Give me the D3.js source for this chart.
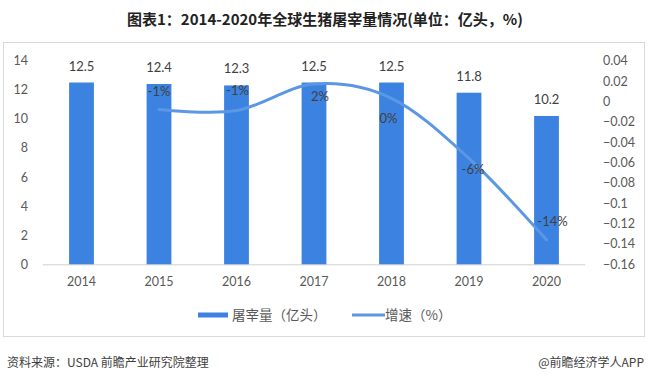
<!DOCTYPE html>
<html>
<head>
<meta charset="utf-8">
<script src="https://cdn.jsdelivr.net/npm/d3@7/dist/d3.min.js"></script>
<style>
  html, body { margin: 0; padding: 0; background: #fff; }
  svg { display: block; }
</style>
</head>
<body>
<svg id="chart" width="650" height="380"></svg>
<script>
// ---- data ----
const years = ["2014", "2015", "2016", "2017", "2018", "2019", "2020"];
const slaughter = [12.5, 12.4, 12.3, 12.5, 12.5, 11.8, 10.2];
const growthYears = ["2015", "2016", "2017", "2018", "2019", "2020"];
const growth = [-0.008, -0.009, 0.017, 0.003, -0.056, -0.136];
const leftTicks = [0, 2, 4, 6, 8, 10, 12, 14];
const rightTicks = [0.04, 0.02, 0, -0.02, -0.04, -0.06, -0.08, -0.1, -0.12, -0.14, -0.16];
const title = "图表1：2014-2020年全球生猪屠宰量情况(单位：亿头，%)";
const legendLabels = ["屠宰量（亿头）", "增速（%）"];
const sourceText = "资料来源：USDA 前瞻产业研究院整理";
const brandText = "@前瞻经济学人APP";

// ---- styles ----
const barColor = "#3c82e0";
const lineColor = "#5b97e4";
const textColor = "#595959";
const latin = "Lato, 'Open Sans', sans-serif";
const cjk = "'Noto Sans CJK SC', sans-serif";

const svg = d3.select("#chart");

// frame
svg.append("rect").attr("x", 3.5).attr("y", 42.5).attr("width", 641).attr("height", 294)
  .attr("fill", "#fff").attr("stroke", "#d9d9d9").attr("stroke-width", 1);

// title
svg.append("text").attr("x", 325).attr("y", 25).attr("text-anchor", "middle")
  .attr("font-family", cjk).attr("font-weight", "bold").attr("font-size", 15)
  .attr("fill", "#222").text(title);

// scales
const x = d3.scaleBand().domain(years).range([42.75, 585.25]).paddingInner(0.68).paddingOuter(0.34);
const yL = d3.scaleLinear().domain([0, 14]).range([264.3, 60.7]);
const yR = d3.scaleLinear().domain([-0.16, 0.04]).range([264.3, 60.7]);
const cx = d => x(d) + x.bandwidth() / 2;

// left axis
const axL = svg.append("g").attr("transform", "translate(34,0)")
  .call(d3.axisLeft(yL).tickValues(leftTicks).tickSize(0).tickPadding(6));
axL.select(".domain").remove();
axL.selectAll("text").attr("font-family", latin).attr("font-size", 12.5).attr("fill", textColor);

// right axis
const axR = svg.append("g").attr("transform", "translate(597,0)")
  .call(d3.axisRight(yR).tickValues(rightTicks).tickSize(0).tickPadding(6)
    .tickFormat(d => d3.format("")(+d.toFixed(2))));
axR.select(".domain").remove();
axR.selectAll("text").attr("font-family", latin).attr("font-size", 12.5).attr("fill", textColor);

// bottom axis
const axB = svg.append("g").attr("transform", "translate(0,264.3)")
  .call(d3.axisBottom(x).tickSize(0).tickPadding(13));
axB.select(".domain").attr("stroke", "#d0d0d0").attr("d", "M42.75,0.5H585.25");
axB.selectAll("text").attr("font-family", latin).attr("font-size", 12.5).attr("fill", textColor);

// bars
svg.append("g").selectAll("rect").data(slaughter).join("rect")
  .attr("x", (d, i) => x(years[i]))
  .attr("y", d => yL(d))
  .attr("width", x.bandwidth())
  .attr("height", d => yL(0) - yL(d))
  .attr("fill", barColor);

// bar labels
svg.append("g").selectAll("text").data(slaughter).join("text")
  .attr("x", (d, i) => cx(years[i]))
  .attr("y", d => yL(d) - 12)
  .attr("text-anchor", "middle")
  .attr("font-family", latin).attr("font-size", 13).attr("fill", "#404040")
  .text(d => d.toFixed(1));

// growth line
const line = d3.line()
  .x((d, i) => cx(growthYears[i]))
  .y(d => yR(d))
  .curve(d3.curveCardinal.tension(0));
svg.append("path").datum(growth)
  .attr("d", line).attr("fill", "none")
  .attr("stroke", lineColor).attr("stroke-width", 3).attr("stroke-linecap", "round");

// growth labels (offsets relative to point)
const lblDx = [0, 1, 6, -3, 4, 6];
const lblDy = [-18, -20, 12, 20, 11, -18];
svg.append("g").selectAll("text").data(growth).join("text")
  .attr("x", (d, i) => cx(growthYears[i]) + lblDx[i])
  .attr("y", (d, i) => yR(d) + lblDy[i] + 4.5)
  .attr("text-anchor", "middle")
  .attr("font-family", latin).attr("font-size", 13).attr("fill", "#404040")
  .text(d => Math.round(d * 100) + "%");

// legend
const lg = svg.append("g");
lg.append("rect").attr("x", 198).attr("y", 312.5).attr("width", 30).attr("height", 5).attr("fill", barColor);
lg.append("text").attr("x", 232).attr("y", 320).attr("font-family", cjk).attr("font-size", 13.5)
  .attr("fill", textColor).text(legendLabels[0]);
lg.append("line").attr("x1", 352).attr("x2", 385).attr("y1", 315).attr("y2", 315)
  .attr("stroke", lineColor).attr("stroke-width", 3);
lg.append("text").attr("x", 385).attr("y", 320).attr("font-family", cjk).attr("font-size", 13.5)
  .attr("fill", textColor).text(legendLabels[1]);

// footer
svg.append("text").attr("x", 7).attr("y", 366.5).attr("font-family", cjk).attr("font-size", 12)
  .attr("fill", "#404040").text(sourceText);
svg.append("text").attr("x", 644).attr("y", 366.5).attr("text-anchor", "end")
  .attr("font-family", cjk).attr("font-size", 12).attr("fill", "#404040").text(brandText);
</script>
</body>
</html>
